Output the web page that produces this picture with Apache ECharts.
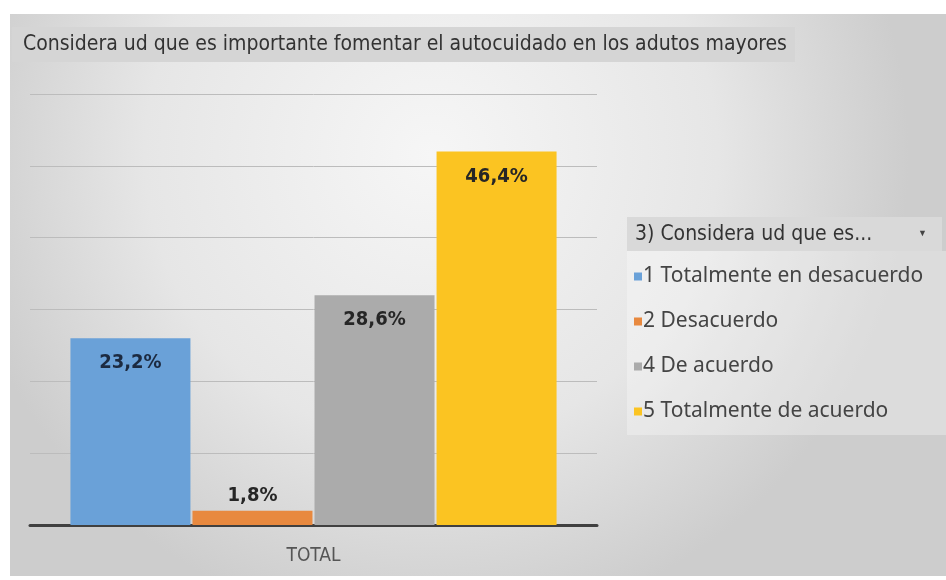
<!DOCTYPE html>
<html>
<head>
<meta charset="utf-8">
<script src="https://cdn.jsdelivr.net/npm/echarts@6/dist/echarts.min.js"></script>
<style>
  html, body { margin: 0; padding: 0; background: #ffffff; }
  #chart { width: 946px; height: 580px; }
</style>
</head>
<body>
<div id="chart"></div>
<script>
// counts behind the shown percentages (n = 56)
const categories = ['TOTAL'];
const seriesNames = ['1 Totalmente en desacuerdo', '2 Desacuerdo', '4 De acuerdo', '5 Totalmente de acuerdo'];
const counts = [13, 1, 16, 26];
const percentLabels = ['23,2%', '1,8%', '28,6%', '46,4%'];
const colors = ['#6aa1d8', '#e8893f', '#ababab', '#fbc422'];
const labelColors = ['#1c2a40', '#262626', '#262626', '#262626'];

const titleText = 'Considera ud que es importante fomentar el autocuidado en los adutos mayores';
const legendTitle = '3) Considera ud que es...';

const narrow = '"Liberation Sans Narrow", "Arial Narrow", "DejaVu Sans Condensed", sans-serif';

const chart = echarts.init(document.getElementById('chart'));

const series = seriesNames.map((name, i) => ({
  name,
  type: 'bar',
  data: [counts[i]],
  barWidth: 120,
  barGap: '1.7%',
  itemStyle: { color: colors[i] },
  label: {
    show: true,
    position: i === 1 ? 'top' : 'insideTop',
    distance: i === 1 ? 5 : 15,
    formatter: () => percentLabels[i],
    fontFamily: narrow,
    fontWeight: 'bold',
    fontSize: 20,
    color: labelColors[i]
  }
}));

chart.setOption({
  animation: false,
  graphic: [
    {
      type: 'rect', z: -10, silent: true,
      shape: { x: 10, y: 14, width: 936, height: 562 },
      style: {
        fill: new echarts.graphic.RadialGradient(0.45, 0.25, 0.85, [
          { offset: 0, color: '#f6f6f6' },
          { offset: 0.6, color: '#e6e6e6' },
          { offset: 1, color: '#cdcdcd' }
        ])
      }
    },
    {
      type: 'rect', z: -5, silent: true,
      shape: { x: 12, y: 27, width: 783, height: 35 },
      style: { fill: '#d5d5d5' }
    },
    {
      type: 'text', silent: true,
      x: 23, y: 45,
      style: { text: titleText, fontFamily: narrow, fontSize: 21, fill: '#333333', verticalAlign: 'middle' }
    },
    {
      type: 'rect', z: -5, silent: true,
      shape: { x: 627, y: 251, width: 319, height: 184 },
      style: { fill: 'rgba(255,255,255,0.3)' }
    },
    {
      type: 'rect', z: -4, silent: true,
      shape: { x: 627, y: 217, width: 315, height: 34 },
      style: { fill: '#d9d9d9' }
    },
    {
      type: 'text', silent: true,
      x: 635, y: 235,
      style: { text: legendTitle, fontFamily: narrow, fontSize: 21, fill: '#333333', verticalAlign: 'middle' }
    },
    {
      type: 'text', silent: true,
      x: 918, y: 234,
      style: { text: '▼', fontSize: 9, fill: '#444444', verticalAlign: 'middle' }
    }
  ],
  legend: {
    orient: 'vertical',
    left: 629,
    top: 261,
    itemWidth: 8,
    itemHeight: 8,
    itemGap: 24,
    icon: 'rect',
    data: seriesNames,
    textStyle: { fontFamily: '"Noto Sans", sans-serif', fontSize: 21, color: '#444444', padding: [0, 0, 0, -4] }
  },
  grid: { left: 30, right: 349, top: 94, bottom: 55 },
  xAxis: {
    type: 'category',
    data: categories,
    axisLine: { lineStyle: { color: '#404040', width: 3 } },
    axisTick: { show: false },
    axisLabel: { margin: 22, fontFamily: narrow, fontSize: 19, color: '#555555' }
  },
  yAxis: {
    type: 'value',
    min: 0,
    max: 30,
    interval: 5,
    axisLabel: { show: false },
    axisLine: { show: false },
    axisTick: { show: false },
    splitLine: { lineStyle: { color: '#bcbcbc', width: 1 } }
  },
  series
});
</script>
</body>
</html>
